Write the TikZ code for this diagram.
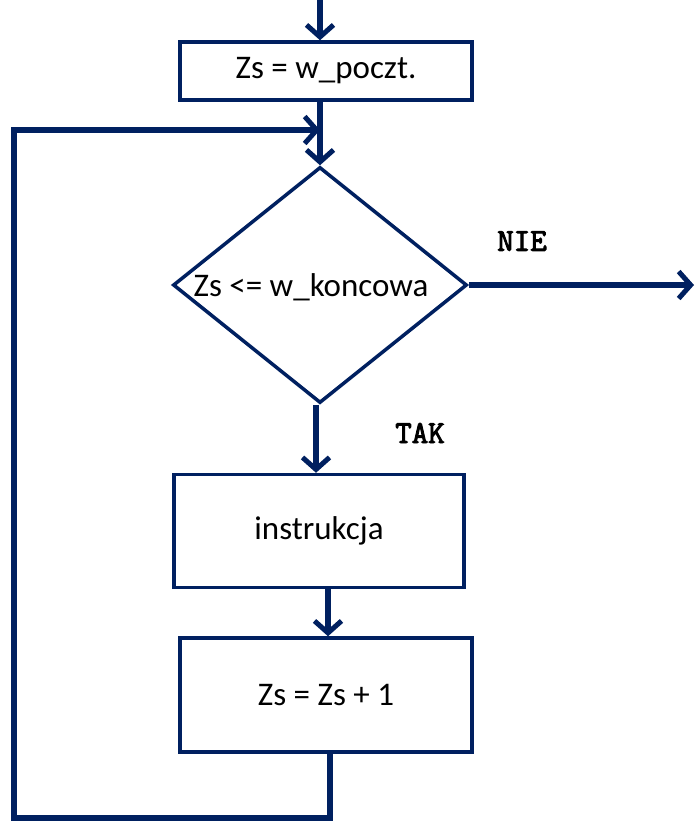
\documentclass[tikz,border=0pt]{standalone}
\usepackage{fontspec}
\setmainfont{Carlito}
\newfontfamily\answerfont{Latin Modern Mono}[FakeBold=3]
\usetikzlibrary{shapes.geometric,arrows.meta}
\definecolor{flowblue}{RGB}{0,32,96}
\begin{document}
\begin{tikzpicture}[x=1pt,y=-1pt,
    box/.style={draw=flowblue, line width=3.5pt, fill=white, inner sep=0pt,
        font=\fontsize{33}{40}\selectfont},
    decision/.style={draw=flowblue, line width=3.5pt, diamond, inner sep=0pt,
        minimum width=294pt, minimum height=236pt},
    flow/.style={draw=flowblue, line width=5.5pt,
        -{Straight Barb[length=12pt,width=27pt,line width=5pt]}},
    answer/.style={font=\answerfont\fontsize{32}{36}\selectfont}]
    \useasboundingbox (0,0) rectangle (697,823);

    % Boxes
    \node[box, minimum width=292pt, minimum height=58pt] (start) at (326,71) {Zs = w\_poczt.};
    \node[decision] (dec) at (320,285) {};
    \node[font=\fontsize{33}{40}\selectfont] (cond) at (311,287) {Zs <= w\_koncowa};
    \node[box, minimum width=290pt, minimum height=113pt] (instr) at (319,531) {instrukcja};
    \node[box, minimum width=292pt, minimum height=114pt] (incr) at (326,695) {Zs = Zs + 1};

    % Answers
    \node[answer] (nie) at (522,241) {NIE};
    \node[answer] (tak) at (420,433) {TAK};

    % Connectors
    \coordinate (in) at (320,0);
    \coordinate (out) at (694,285);
    \coordinate (merge) at (320,130);
    \coordinate (down) at (330,818);
    \coordinate (left) at (14,818);
    \draw[flow] (in) -- (in |- start.north);
    \draw[draw=flowblue, line width=5.5pt] (start.south -| merge) -- (merge);
    \draw[flow] (merge) -- (dec.north);
    \draw[flow] (dec.east) -- (out);
    \draw[flow] (dec.south -| 316,0) -- (316,0 |- instr.north);
    \draw[flow] (instr.south -| 328,0) -- (328,0 |- incr.north);

    % Loop back
    \draw[flow, line join=miter] (incr.south -| down) -- (down) -- (left) -- (left |- merge) -- (merge);
\end{tikzpicture}
\end{document}
